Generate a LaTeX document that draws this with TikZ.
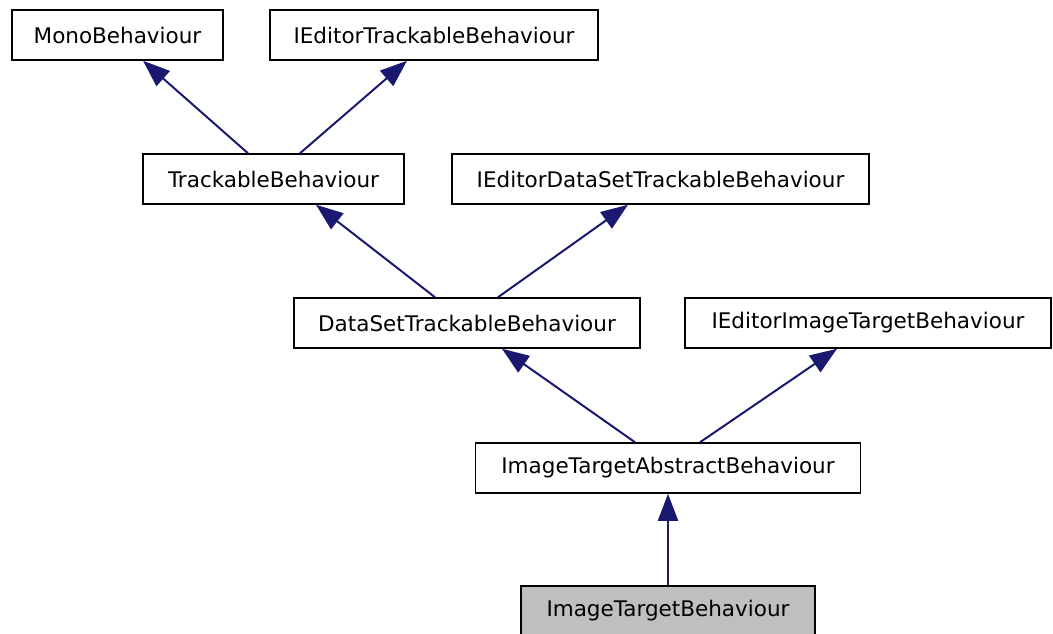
\documentclass[tikz,border=0pt]{standalone}
\usepackage{fontspec}
\setmainfont{DejaVu Sans}
\usetikzlibrary{arrows.meta}
\definecolor{edgeblue}{HTML}{191970}
\definecolor{curgray}{HTML}{BFBFBF}
\begin{document}
\begin{tikzpicture}[x=1pt,y=-1pt,
  cls/.style={draw=black, line width=1.5pt, fill=white, inner sep=0pt,
    minimum height=50pt, font=\fontsize{21.5}{26}\selectfont},
  current/.style={cls, fill=curgray},
  inherit/.style={draw=edgeblue, line width=2pt,
    -{Triangle[length=27pt,width=20pt]}, shorten >=0pt}]
\useasboundingbox (0,0) rectangle (1053,633);
\clip (0,0) rectangle (1053,633);

% class boxes
\node[cls, minimum width=211pt] (mono)   at (117.5,35)  {MonoBehaviour};
\node[cls, minimum width=328pt] (iet)    at (434,35)    {IEditorTrackableBehaviour};
\node[cls, minimum width=261pt] (tb)     at (273.5,179) {TrackableBehaviour};
\node[cls, minimum width=417pt] (iedst)  at (660.5,179) {IEditorDataSetTrackableBehaviour};
\node[cls, minimum width=346pt] (dst)    at (467,323)   {DataSetTrackableBehaviour};
\node[cls, minimum width=366pt] (ieit)   at (868,323)   {IEditorImageTargetBehaviour};
\node[cls, minimum width=385pt] (itab)   at (668,468)   {ImageTargetAbstractBehaviour};
\node[current, minimum width=294pt] (itb) at (668,611)  {ImageTargetBehaviour};

% inheritance edges
\draw[inherit] ([xshift=-25.5pt]tb.north)  -- ([xshift=25.5pt]mono.south);
\draw[inherit] ([xshift=26.5pt]tb.north)   -- ([xshift=-27pt]iet.south);
\draw[inherit] ([xshift=-32pt]dst.north)   -- ([xshift=42.5pt]tb.south);
\draw[inherit] ([xshift=31pt]dst.north)    -- ([xshift=-32.5pt]iedst.south);
\draw[inherit] ([xshift=-33pt]itab.north)  -- ([xshift=35pt]dst.south);
\draw[inherit] ([xshift=32pt]itab.north)   -- ([xshift=-31pt]ieit.south);
\draw[inherit] (itb.north) -- (itab.south);
\end{tikzpicture}
\end{document}
